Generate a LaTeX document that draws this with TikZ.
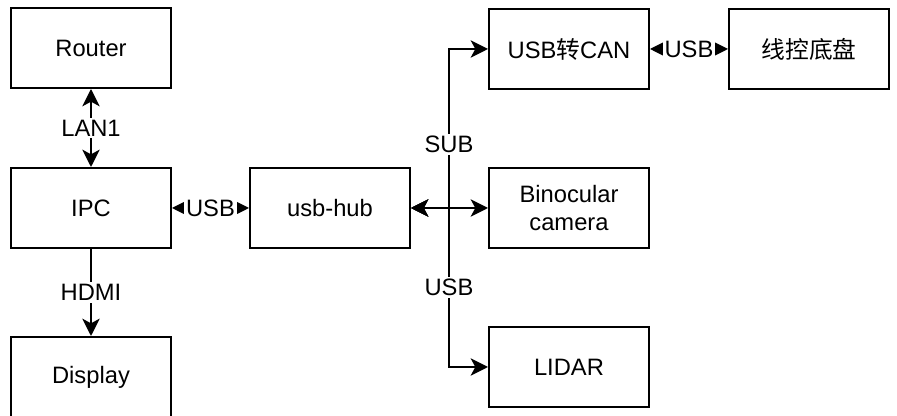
\documentclass[tikz,border=0pt]{standalone}
\usepackage{fontspec}
\setmainfont{Liberation Sans}
\newfontfamily\cjk{Noto Sans CJK SC}
\usepackage{tikz}
\usetikzlibrary{arrows.meta}
\tikzstyle{device} = [rectangle, draw, fill=white, line width=1.5pt, inner sep=2pt,
    text width=114pt, text centered, minimum width=120pt, minimum height=60pt]
\tikzstyle{link} = [draw, line width=1.5pt,
    >={Stealth[length=13pt, width=13pt, inset=3.5pt]}]
\tikzstyle{tag} = [fill=white, inner sep=1.5pt]

\begin{document}
\begin{tikzpicture}[node distance = 120pt,
    font=\fontsize{17.8}{20.5}\selectfont
    ]
    \useasboundingbox (-68.25pt,36pt) rectangle (604.5pt,-276pt);
    % Nodes
    \node [device] (router) {Router};
    \node [device, below of=router] (ipc) {IPC};
    \node [device, below of=ipc, node distance=126.75pt] (display) {Display};
    \node [device, right of=ipc, node distance=179.25pt] (hub) {usb-hub};
    \node [device, right of=hub, node distance=179.25pt] (camera) {Binocular camera};
    \node [device, above of=camera, node distance=119.25pt] (can) {USB{\cjk 转}CAN};
    \node [device, below of=camera, node distance=119.25pt] (lidar) {LIDAR};
    \node [device, right of=can, node distance=180pt] (chassis) {{\cjk 线控底盘}};
    \coordinate [right of=hub, node distance=89.25pt] (bus);

    % Edges
    \path [link, <->] (router) -- node [tag] {LAN1} (ipc);
    \path [link, <->] (ipc) -- node [tag] {USB} (hub);
    \path [link, ->] (ipc) -- node [tag] {HDMI} (display);
    \path [link, <->] (hub) -- (camera);
    \path [link, <->] (hub.east) -- (bus) |- node [tag, pos=0.2] {SUB} (can);
    \path [link, <->] (hub.east) -- (bus) |- node [tag, pos=0.25] {USB} (lidar);
    \path [link, <->] (can) -- node [tag] {USB} (chassis);
\end{tikzpicture}
\end{document}
